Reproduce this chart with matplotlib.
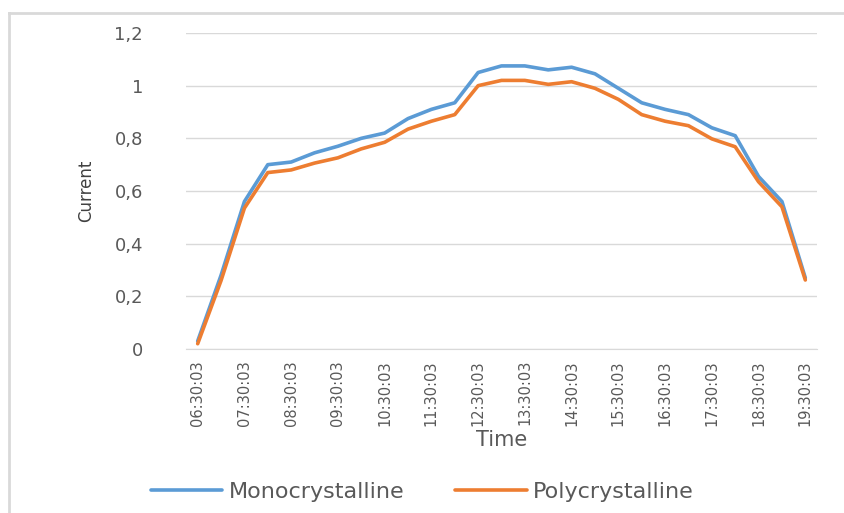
import matplotlib.pyplot as plt
from matplotlib.lines import Line2D

# heures de mesure, toutes les 30 minutes
times = ['06:30:03', '07:00:03', '07:30:03', '08:00:03', '08:30:03', '09:00:03',
         '09:30:03', '10:00:03', '10:30:03', '11:00:03', '11:30:03', '12:00:03',
         '12:30:03', '13:00:03', '13:30:03', '14:00:03', '14:30:03', '15:00:03',
         '15:30:03', '16:00:03', '16:30:03', '17:00:03', '17:30:03', '18:00:03',
         '18:30:03', '19:00:03', '19:30:03']
mono = [0.03, 0.28, 0.56, 0.70, 0.71, 0.745, 0.77, 0.80, 0.82, 0.875, 0.91, 0.935,
        1.05, 1.075, 1.075, 1.06, 1.07, 1.045, 0.99, 0.935, 0.91, 0.89, 0.84, 0.81,
        0.655, 0.56, 0.27]
poly = [0.02, 0.26, 0.535, 0.67, 0.68, 0.706, 0.726, 0.76, 0.785, 0.835, 0.865, 0.89,
        1.0, 1.02, 1.02, 1.005, 1.015, 0.99, 0.948, 0.89, 0.865, 0.848, 0.798, 0.768,
        0.635, 0.54, 0.262]
yticks = [0, 0.2, 0.4, 0.6, 0.8, 1.0, 1.2]
ytick_labels = ['0', '0,2', '0,4', '0,6', '0,8', '1', '1,2']

gray_txt = '#595959'
fig = plt.figure(figsize=(8.45, 5.13), dpi=100)
ax = fig.add_axes([186 / 845, 1 - 349 / 513, 631 / 845, 316 / 513])

x = list(range(len(times)))
ax.plot(x, mono, color='#5B9BD5', lw=2.6, label='Monocrystalline', solid_capstyle='round')
ax.plot(x, poly, color='#ED7D31', lw=2.6, label='Polycrystalline', solid_capstyle='round')

ax.set_xlim(-0.5, len(times) - 0.5)
ax.set_ylim(0, 1.2)
ax.set_yticks(yticks)
ax.set_yticklabels(ytick_labels, fontsize=13, color=gray_txt)
ax.set_xticks(x[::2])
ax.set_xticklabels(times[::2], rotation=90, fontsize=10.5, color=gray_txt)
ax.tick_params(length=0, pad=8)
ax.tick_params(axis='y', pad=31)

ax.grid(axis='y', color='#d9d9d9', lw=1)
ax.set_axisbelow(True)
for s in ['top', 'right', 'left']:
    ax.spines[s].set_visible(False)
ax.spines['bottom'].set_color('#d9d9d9')

ax.set_ylabel('Current', fontsize=12, color='#404040', labelpad=14)
ax.set_xlabel('Time', fontsize=15, color=gray_txt, labelpad=3)

fig.legend(loc='center', bbox_to_anchor=(0.5, 1 - 492 / 513), ncol=2, frameon=False,
           fontsize=16, handlelength=3.2, columnspacing=2.3, handletextpad=0.3,
           labelcolor=gray_txt)

# cadre gris (bord gauche et haut seulement)
x0, y0 = 9 / 845, 1 - 13 / 513
fig.add_artist(Line2D([x0, x0], [0, y0], color='#d9d9d9', lw=2, transform=fig.transFigure))
fig.add_artist(Line2D([x0, 1], [y0, y0], color='#d9d9d9', lw=2, transform=fig.transFigure))

plt.savefig('out.png', dpi=100)
plt.close()
